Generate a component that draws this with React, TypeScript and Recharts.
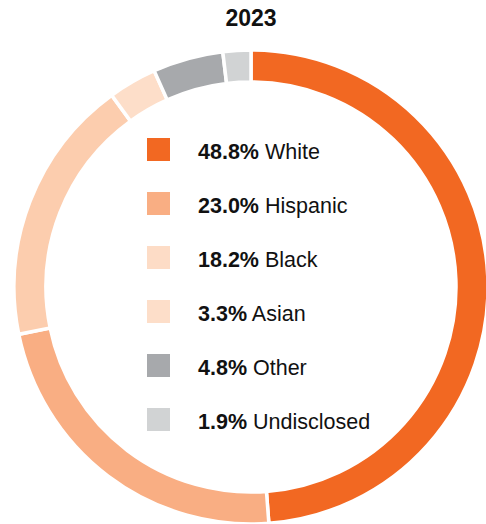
import * as React from "react";
import { PieChart, Pie, Cell } from "recharts";

document.body.style.margin = "0";

const groups = ["White", "Hispanic", "Black", "Asian", "Other", "Undisclosed"];
const shares = [48.8, 23.0, 18.2, 3.3, 4.8, 1.9];
const colors = ["#F26822", "#F9AE83", "#FCCDAE", "#FDDEC9", "#A7A9AC", "#D1D3D4"];
// legend swatches are a touch paler than the ring for Black
const swatches = ["#F26822", "#F9AE83", "#FDDCC6", "#FDDEC9", "#A7A9AC", "#D1D3D4"];
const title = "2023";

const data = groups.map((name, i) => ({ name, value: shares[i], color: colors[i] }));

const FONT = '"Liberation Sans", Arial, Helvetica, sans-serif';

function LegendList() {
  return (
    <div style={{ fontFamily: FONT }}>
      {data.map((d, i) => (
        <div key={d.name} style={{ display: "flex", alignItems: "center", height: 54 }}>
          <div style={{ width: 23, height: 23, background: swatches[i], marginRight: 28 }} />
          <div style={{ fontSize: 21.5, color: "#111", position: "relative", top: 3 }}>
            <b>{d.value.toFixed(1)}%</b> {d.name}
          </div>
        </div>
      ))}
    </div>
  );
}

export default function App() {
  return (
    <div style={{ position: "relative", width: 486, height: 524, background: "#fff", overflow: "hidden" }}>
      <div
        style={{
          position: "absolute", top: 5, left: 0, width: 502, textAlign: "center",
          fontFamily: FONT, fontWeight: 700, fontSize: 23, color: "#111",
        }}
      >
        {title}
      </div>
      <PieChart width={486} height={524} margin={{ top: 0, right: 0, bottom: 0, left: 0 }}>
        <Pie
          data={data}
          dataKey="value"
          nameKey="name"
          cx={251}
          cy={287}
          innerRadius={205}
          outerRadius={237}
          startAngle={90}
          endAngle={-270}
          stroke="#fff"
          strokeWidth={3.5}
          isAnimationActive={false}
        >
          {data.map((d) => <Cell key={d.name} fill={d.color} />)}
        </Pie>
      </PieChart>
      <div style={{ position: "absolute", top: 122, left: 147 }}>
        <LegendList />
      </div>
    </div>
  );
}
